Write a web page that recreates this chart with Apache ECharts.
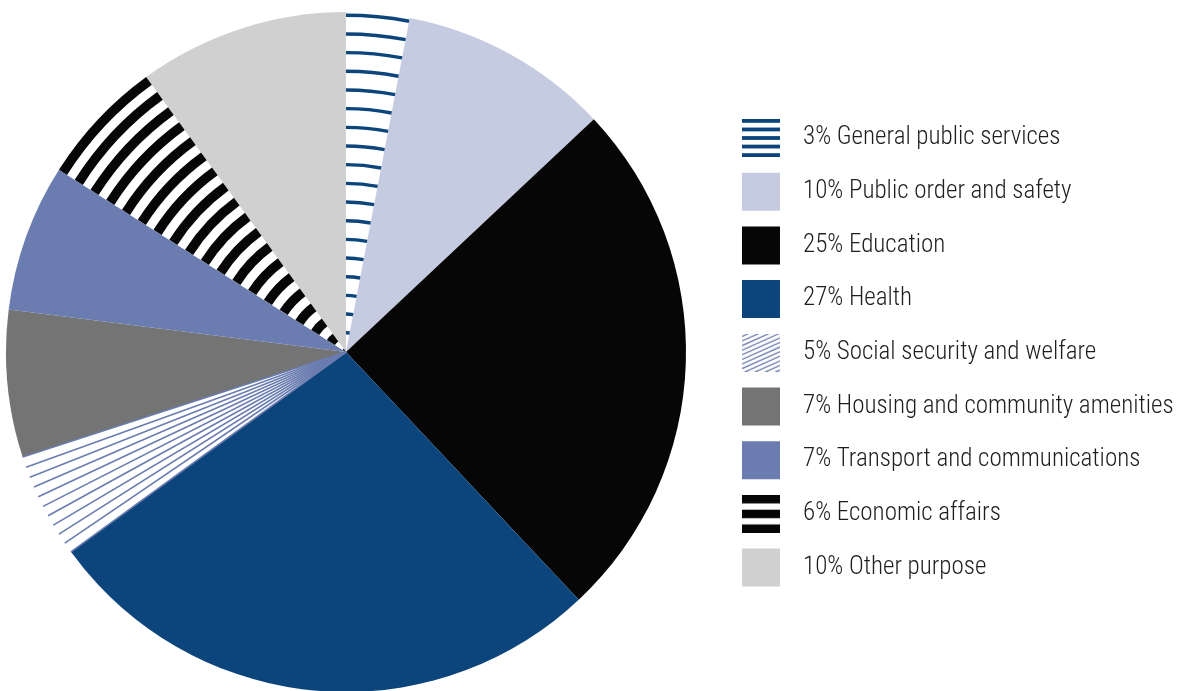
<!DOCTYPE html>
<html>
<head>
<meta charset="utf-8">
<title>Expenditure by function</title>
<script src="https://cdn.jsdelivr.net/npm/echarts@6/dist/echarts.min.js"></script>
<style>
  html, body { margin: 0; padding: 0; background: #ffffff; }
  #chart { width: 1180px; height: 691px; }
</style>
</head>
<body>
<div id="chart"></div>
<script>
// Spending shares by function (percent of total)
const categories = [
  'General public services',
  'Public order and safety',
  'Education',
  'Health',
  'Social security and welfare',
  'Housing and community amenities',
  'Transport and communications',
  'Economic affairs',
  'Other purpose'
];
const shares = [3, 10, 25, 27, 5, 7, 7, 6, 10];

// Colours
const NAVY = '#0c457c';
const BLACK = '#060606';
const SLATE = '#6a7cb0';
const fills = ['#ffffff', '#c5cbe1', BLACK, NAVY, '#ffffff', '#747474', SLATE, '#ffffff', '#d0d0d0'];
const iconColors = [NAVY, '#c5cbe1', BLACK, NAVY, SLATE, '#747474', SLATE, BLACK, '#d0d0d0'];

// Layout of the pie
const CX = 346, CY = 352, R = 340;
const total = shares.reduce((a, b) => a + b, 0);

const GPS = 0, SOCIAL = 4, ECON = 7;

// One ring of a concentric-stripe pattern, coloured only inside one slice
function ringSeries(sliceIdx, r0, r1, color) {
  return {
    type: 'pie',
    silent: true,
    center: [CX, CY],
    radius: [Math.max(0, r0), r1],
    startAngle: 90,
    clockwise: true,
    label: { show: false },
    labelLine: { show: false },
    emphasis: { disabled: true },
    itemStyle: { borderWidth: 0 },
    data: shares.map((v, i) => ({
      value: v,
      itemStyle: { color: i === sliceIdx ? color : 'transparent' }
    }))
  };
}

const series = [];

// Base pie
series.push({
  type: 'pie',
  center: [CX, CY],
  radius: [0, R],
  startAngle: 90,
  clockwise: true,
  silent: true,
  label: { show: false },
  labelLine: { show: false },
  emphasis: { disabled: true },
  itemStyle: { borderWidth: 0 },
  data: categories.map((name, i) => ({
    name: name,
    value: shares[i],
    itemStyle: { color: fills[i] }
  }))
});

// Thin navy arcs for general public services
const gpsPitch = 18.67;
for (let k = 0; k < 18; k++) {
  const r = 19.3 + gpsPitch * k;
  series.push(ringSeries(GPS, r - 1.7, r + 1.7, NAVY));
}

// Thick black arcs for economic affairs
const econPitch = 18.67;
for (let k = 0; k < 19; k++) {
  const rOut = R - econPitch * k;
  const rIn = rOut - 9.6;
  if (rOut <= 2) break;
  series.push(ringSeries(ECON, rIn, rOut, BLACK));
}

// Radial rules for social security and welfare
const socialStart = shares.slice(0, SOCIAL).reduce((a, b) => a + b, 0);
const rayCount = 10;
const rays = [];
for (let k = 0; k <= rayCount; k++) {
  rays.push([1, socialStart + shares[SOCIAL] * k / rayCount]);
}
series.push({
  type: 'custom',
  coordinateSystem: 'polar',
  polarIndex: 0,
  silent: true,
  z: 10,
  data: rays,
  encode: { radius: 0, angle: 1 },
  renderItem: function (params, api) {
    const a = api.value(1);
    const p0 = api.coord([0, a]);
    const p1 = api.coord([api.value(0), a]);
    return {
      type: 'line',
      shape: { x1: p0[0], y1: p0[1], x2: p1[0], y2: p1[1] },
      style: { stroke: SLATE, lineWidth: 1.6, lineCap: 'butt', fill: null }
    };
  }
});

// Legend swatches for the patterned categories
function patternIcon(draw) {
  const c = document.createElement('canvas');
  c.width = 38; c.height = 38;
  const g = c.getContext('2d');
  draw(g);
  return 'image://' + c.toDataURL();
}
const icons = {};
icons[GPS] = patternIcon(g => {
  g.fillStyle = NAVY;
  for (let k = 0; k < 5; k++) g.fillRect(0, k * 8.55, 38, 3.8);
});
icons[ECON] = patternIcon(g => {
  g.fillStyle = BLACK;
  for (let k = 0; k < 3; k++) g.fillRect(0, k * 14.75, 38, 8.5);
});
icons[SOCIAL] = patternIcon(g => {
  g.strokeStyle = SLATE;
  g.lineWidth = 1.3;
  for (let b = -2; b < 60; b += 4.6) {
    g.beginPath();
    g.moveTo(0, b);
    g.lineTo(38, b - 17);
    g.stroke();
  }
});

const option = {
  animation: false,
  backgroundColor: '#ffffff',
  polar: { center: [CX, CY], radius: [0, R] },
  angleAxis: {
    polarIndex: 0,
    type: 'value', min: 0, max: total, startAngle: 90, clockwise: true,
    axisLine: { show: false }, axisTick: { show: false },
    axisLabel: { show: false }, splitLine: { show: false }
  },
  radiusAxis: {
    polarIndex: 0,
    type: 'value', min: 0, max: 1,
    axisLine: { show: false }, axisTick: { show: false },
    axisLabel: { show: false }, splitLine: { show: false }
  },
  legend: {
    orient: 'vertical',
    left: 737,
    top: 114,
    itemWidth: 38,
    itemHeight: 38,
    itemGap: 15.7,
    selectedMode: false,
    textStyle: {
      fontFamily: "'Roboto Condensed', 'Noto Sans Condensed', 'DejaVu Sans Condensed', sans-serif",
      fontSize: 25,
      fontWeight: 300,
      color: '#1e1e1e',
      padding: [3, 0, 0, 18]
    },
    formatter: name => shares[categories.indexOf(name)] + '% ' + name,
    data: categories.map((name, i) => ({
      name: name,
      icon: icons[i] || 'rect',
      itemStyle: { color: iconColors[i], borderWidth: 0 }
    }))
  },
  series: series
};

const chart = echarts.init(document.getElementById('chart'), null, { renderer: 'canvas' });
chart.setOption(option);
</script>
</body>
</html>
